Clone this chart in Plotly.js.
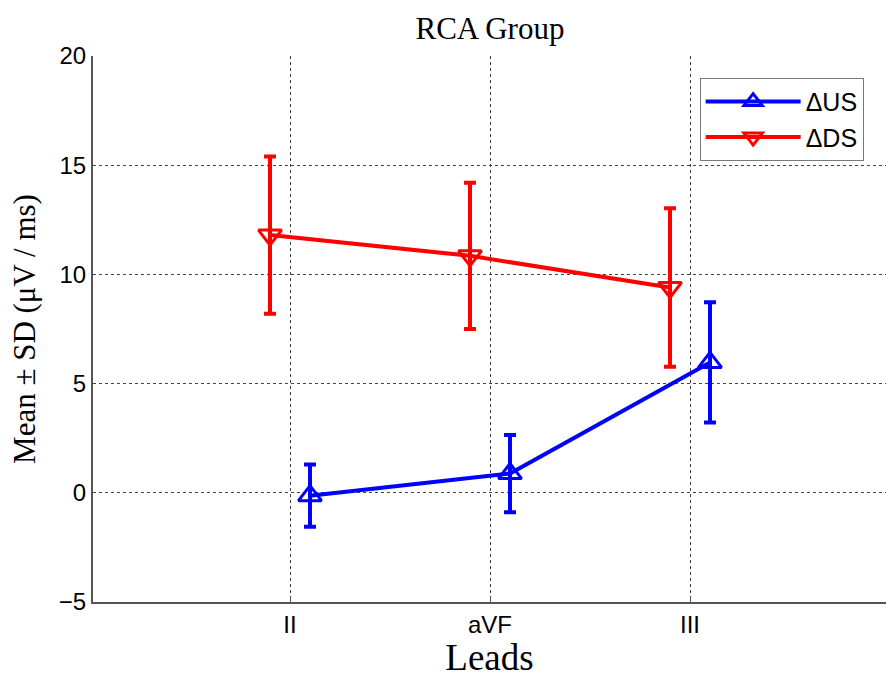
<!DOCTYPE html>
<html>
<head>
<meta charset="utf-8">
<script src="https://cdn.plot.ly/plotly-3.0.1.min.js"></script>
<style>html,body{margin:0;padding:0;background:#fff;}#chart{width:886px;height:678px;}</style>
</head>
<body>
<div id="chart"></div>
<script>
const leads = ["II", "aVF", "III"];
const usMean = [-0.13, 0.88, 5.97];
const usSD = [1.43, 1.77, 2.75];
const dsMean = [11.8, 10.85, 9.4];
const dsSD = [3.6, 3.35, 3.63];

const leadPos = leads.map((_, i) => i + 1);
const usShift = 0.1, dsShift = -0.1;

const traces = [
  {
    name: "ΔUS",
    x: leadPos.map(p => p + usShift), y: usMean,
    mode: "lines+markers",
    line: {color: "#0000ff", width: 4},
    marker: {symbol: "triangle-up-open", size: 20, color: "#0000ff", line: {width: 3, color: "#0000ff"}},
    error_y: {type: "data", array: usSD, visible: true, color: "#0000ff", thickness: 4, width: 6}
  },
  {
    name: "ΔDS",
    x: leadPos.map(p => p + dsShift), y: dsMean,
    mode: "lines+markers",
    line: {color: "#ff0000", width: 4},
    marker: {symbol: "triangle-down-open", size: 20, color: "#ff0000", line: {width: 3, color: "#ff0000"}},
    error_y: {type: "data", array: dsSD, visible: true, color: "#ff0000", thickness: 4, width: 6}
  }
];

const layout = {
  width: 886, height: 678,
  margin: {l: 93, r: 0, t: 56, b: 76},
  paper_bgcolor: "#fff", plot_bgcolor: "#fff",
  showlegend: true,
  title: {text: "RCA Group", font: {family: "Liberation Serif", size: 31, color: "#000"}, x: 0.553, xanchor: "center", y: 0.958, yanchor: "middle"},
  xaxis: {
    range: [0.015, 3.98], tickvals: leadPos, ticktext: leads,
    showgrid: true, gridcolor: "#444", griddash: "dot", gridwidth: 1,
    zeroline: false, showline: true, linecolor: "#555", linewidth: 2,
    ticks: "inside", ticklen: 5, tickcolor: "#555",
    tickfont: {family: "Liberation Sans", size: 24, color: "#000"},
    title: {text: "Leads", font: {family: "Liberation Serif", size: 37, color: "#000"}, standoff: 8}
  },
  yaxis: {
    range: [-5, 20], tickvals: [-5, 0, 5, 10, 15, 20], ticktext: ["\u22125", "0", "5", "10", "15", "20"],
    showgrid: true, gridcolor: "#444", griddash: "dot", gridwidth: 1,
    zeroline: false, showline: true, linecolor: "#555", linewidth: 2,
    ticks: "", tickfont: {family: "Liberation Sans", size: 24, color: "#000"},
    title: {text: "Mean ± SD (μV / ms)", font: {family: "Liberation Serif", size: 31, color: "#000"}, standoff: 14}
  },
  legend: {
    x: 0.765, y: 0.96, xanchor: "left", yanchor: "top",
    bgcolor: "#fff", bordercolor: "#777", borderwidth: 1,
    font: {family: "Liberation Sans", size: 25, color: "#000"},
    itemwidth: 95, tracegroupgap: 4
  }
};

Plotly.newPlot("chart", traces, layout, {displayModeBar: false, staticPlot: true});
</script>
</body>
</html>
